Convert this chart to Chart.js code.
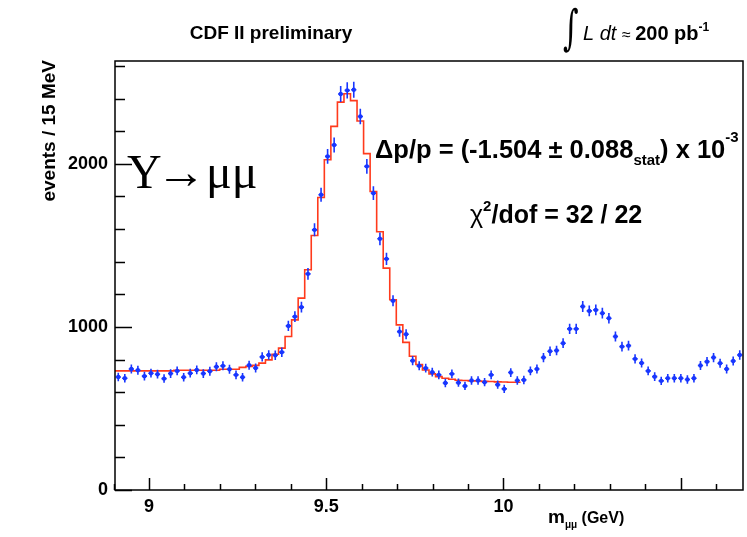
<!DOCTYPE html>
<html>
<head>
<meta charset="utf-8">
<script src="https://cdn.jsdelivr.net/npm/chart.js@4.4.1/dist/chart.umd.min.js"></script>
<style>
  html, body { margin: 0; padding: 0; background: #fff; }
</style>
</head>
<body>
<canvas id="massChart" width="747" height="537"></canvas>
<script>
// dimuon mass histogram binning (GeV)
const massMin = 8.904;
const massMax = 10.676;
const nBins = 96;

// events per bin
const eventCounts = [
  693, 685, 742, 734, 698, 716, 710, 683, 714, 730, 691, 716, 736, 714, 728, 756,
  761, 740, 706, 691, 765, 748, 816, 828, 826, 845, 1006, 1063, 1121, 1325, 1595, 1810,
  2045, 2115, 2428, 2450, 2454, 2290, 1984, 1820, 1540, 1417, 1160, 971, 955, 793, 761, 747,
  722, 706, 656, 712, 658, 638, 671, 671, 661, 706, 646, 620, 720, 671, 675, 730,
  742, 812, 851, 855, 900, 988, 988, 1125, 1098, 1104, 1084, 1053, 941, 879, 885, 804,
  779, 730, 695, 669, 685, 685, 685, 677, 685, 763, 787, 812, 777, 742, 791, 828
];

// fitted template (red histogram), first 62 bins only
const fitCounts = [
  730, 730, 730, 730, 730, 730, 730, 730, 730, 734, 734, 734, 734, 734, 734, 734,
  740, 740, 740, 752, 758, 764, 778, 798, 832, 870, 941, 1043, 1176, 1350, 1560, 1793,
  2025, 2229, 2378, 2429, 2387, 2262, 2062, 1830, 1583, 1360, 1166, 1012, 905, 820, 769, 736,
  712, 695, 685, 679, 673, 671, 669, 668, 666, 665, 663, 662, 661, 661
];

const xTickLabels = [9, 9.5, 10];
const yTickLabels = [0, 1000, 2000];

const binWidth = (massMax - massMin) / nBins;
const dataPoints = eventCounts.map((n, i) => ({ x: massMin + (i + 0.5) * binWidth, y: n }));
const fitPoints = fitCounts.map((n, i) => ({ x: massMin + i * binWidth, y: n }));
fitPoints.push({ x: massMin + fitCounts.length * binWidth, y: fitCounts[fitCounts.length - 1] });

const BLUE = '#1836ff';
const RED = '#ff3a1c';
const SANS = '"Liberation Sans", Arial, sans-serif';
const SERIF = '"Liberation Serif", serif';

function drawRuns(ctx, x, y, runs) {
  for (const [text, font, dy] of runs) {
    ctx.font = font;
    ctx.fillText(text, x, y + dy);
    x += ctx.measureText(text).width;
  }
}

const errorBars = {
  id: 'errorBars',
  afterDatasetsDraw(chart) {
    const { ctx, scales: { x, y } } = chart;
    ctx.save();
    ctx.strokeStyle = BLUE;
    ctx.lineWidth = 1.6;
    ctx.beginPath();
    dataPoints.forEach(p => {
      const err = Math.sqrt(p.y);
      const px = x.getPixelForValue(p.x);
      const py = y.getPixelForValue(p.y);
      ctx.moveTo(px, y.getPixelForValue(p.y - err));
      ctx.lineTo(px, y.getPixelForValue(p.y + err));
      ctx.moveTo(x.getPixelForValue(p.x - 0.4 * binWidth), py);
      ctx.lineTo(x.getPixelForValue(p.x + 0.4 * binWidth), py);
    });
    ctx.stroke();
    ctx.restore();
  }
};

const frameAndText = {
  id: 'frameAndText',
  afterDraw(chart) {
    const { ctx, chartArea: a, scales: { x, y } } = chart;
    ctx.save();
    ctx.strokeStyle = '#000';
    ctx.lineWidth = 1.5;
    ctx.strokeRect(a.left, a.top, a.right - a.left, a.bottom - a.top);

    // inward tick marks
    ctx.beginPath();
    for (let v = 0; v <= y.max; v += 200) {
      const py = Math.round(y.getPixelForValue(v)) + 0.5;
      const len = v % 1000 === 0 ? 17 : 10;
      ctx.moveTo(a.left, py);
      ctx.lineTo(a.left + len, py);
    }
    for (let k = 89; k <= 106; k++) {
      const v = k / 10;
      const px = Math.round(x.getPixelForValue(v)) + 0.5;
      const len = k % 5 === 0 ? 12 : 6;
      ctx.moveTo(px, a.bottom);
      ctx.lineTo(px, a.bottom - len);
    }
    ctx.stroke();

    ctx.fillStyle = '#000';
    ctx.textBaseline = 'alphabetic';

    // header
    ctx.textAlign = 'center';
    ctx.font = 'bold 19px ' + SANS;
    ctx.fillText('CDF II preliminary', 271, 39);

    ctx.textAlign = 'left';
    ctx.save();
    ctx.translate(563, 44);
    ctx.scale(1, 1.6);
    ctx.font = '30px "DejaVu Serif"';
    ctx.fillText('\u222B', 0, 0);
    ctx.restore();
    drawRuns(ctx, 583, 40, [
      ['L dt ', 'italic 20px ' + SANS, 0],
      ['\u2248 ', '16px ' + SANS, 0],
      ['200 pb', 'bold 20px ' + SANS, 0],
      ['-1', 'bold 12px ' + SANS, -9]
    ]);

    // axis titles
    ctx.save();
    ctx.translate(55, 60);
    ctx.rotate(-Math.PI / 2);
    ctx.textAlign = 'right';
    ctx.font = 'bold 19px ' + SANS;
    ctx.fillText('events / 15 MeV', 0, 0);
    ctx.restore();

    drawRuns(ctx, 548, 523, [
      ['m', 'bold 19px ' + SANS, 0],
      ['\u03BC\u03BC', 'bold 10px ' + SANS, 5],
      [' (GeV)', 'bold 16px ' + SANS, 0]
    ]);

    // Upsilon -> mu mu, arrow stretched to touch both sides
    ctx.font = '48px ' + SERIF;
    ctx.fillText('\u03A5', 127, 188);
    ctx.fillText('\u03BC\u03BC', 206, 188);
    ctx.save();
    const arrowW = ctx.measureText('\u2192').width;
    ctx.translate(156, 188);
    ctx.scale(50 / arrowW, 1);
    ctx.fillText('\u2192', 0, 0);
    ctx.restore();

    drawRuns(ctx, 375, 158, [
      ['\u0394p/p = (-1.504 \u00B1 0.088', 'bold 25.5px ' + SANS, 0],
      ['stat', 'bold 15px ' + SANS, 7],
      [') x 10', 'bold 25.5px ' + SANS, 0],
      ['-3', 'bold 15px ' + SANS, -16]
    ]);
    drawRuns(ctx, 470, 223, [
      ['\u03C7', '25px ' + SANS, 0],
      ['2', 'bold 15px ' + SANS, -12],
      ['/dof = 32 / 22', 'bold 25px ' + SANS, 0]
    ]);
    ctx.restore();
  }
};

new Chart(document.getElementById('massChart'), {
  type: 'scatter',
  data: {
    datasets: [
      {
        data: dataPoints,
        pointRadius: 2.2,
        pointBackgroundColor: BLUE,
        pointBorderWidth: 0,
        order: 1
      },
      {
        type: 'line',
        data: fitPoints,
        borderColor: RED,
        borderWidth: 1.6,
        pointRadius: 0,
        stepped: 'before',
        fill: false,
        order: 2
      }
    ]
  },
  options: {
    responsive: false,
    devicePixelRatio: 1,
    animation: false,
    layout: { padding: { top: 61, right: 1, left: 0, bottom: 0 } },
    plugins: { legend: { display: false }, tooltip: { enabled: false } },
    scales: {
      x: {
        type: 'linear',
        min: massMin,
        max: massMax,
        afterBuildTicks: axis => { axis.ticks = xTickLabels.map(v => ({ value: v })); },
        afterFit: axis => { axis.height = 47; },
        grid: { display: false, drawTicks: false },
        border: { display: false },
        ticks: {
          autoSkip: false, maxRotation: 0, padding: 6, color: '#000',
          font: { family: SANS, size: 18, weight: 'bold' },
          callback: v => String(v)
        }
      },
      y: {
        min: 0,
        max: 2630,
        afterBuildTicks: axis => { axis.ticks = yTickLabels.map(v => ({ value: v })); },
        afterFit: axis => { axis.width = 115; },
        grid: { display: false, drawTicks: false },
        border: { display: false },
        ticks: {
          autoSkip: false, padding: 7, color: '#000',
          font: { family: SANS, size: 18, weight: 'bold' },
          callback: v => String(v)
        }
      }
    }
  },
  plugins: [errorBars, frameAndText]
});
</script>
</body>
</html>
